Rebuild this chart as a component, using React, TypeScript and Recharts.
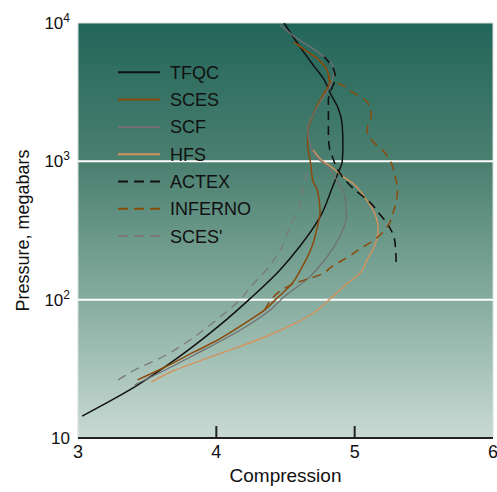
import React from 'react';
import { LineChart, Line, XAxis, YAxis, ReferenceArea, ReferenceLine, Legend } from 'recharts';

// compression (c) vs pressure in megabars (p), low to high pressure
const tfqc = [
  { c: 3.03, p: 14.4 }, { c: 3.41, p: 23.4 }, { c: 3.72, p: 37.9 }, { c: 4.01, p: 63.5 },
  { c: 4.25, p: 103 }, { c: 4.46, p: 164 }, { c: 4.6, p: 240 }, { c: 4.75, p: 396 },
  { c: 4.84, p: 653 }, { c: 4.88, p: 824 }, { c: 4.91, p: 990 }, { c: 4.915, p: 1315 },
  { c: 4.91, p: 1830 }, { c: 4.88, p: 2430 }, { c: 4.83, p: 3020 }, { c: 4.78, p: 3880 },
  { c: 4.71, p: 4820 }, { c: 4.62, p: 6390 }, { c: 4.49, p: 10000 },
];

const sces = [
  { c: 3.43, p: 26.3 }, { c: 3.63, p: 32.6 }, { c: 3.84, p: 41.9 }, { c: 4.01, p: 51.1 },
  { c: 4.21, p: 67.9 }, { c: 4.35, p: 84.3 }, { c: 4.44, p: 103 }, { c: 4.54, p: 128 },
  { c: 4.62, p: 172 }, { c: 4.69, p: 240 }, { c: 4.73, p: 336 }, { c: 4.75, p: 431 },
  { c: 4.73, p: 621 }, { c: 4.7, p: 710 }, { c: 4.68, p: 990 }, { c: 4.66, p: 1315 },
  { c: 4.66, p: 1630 }, { c: 4.69, p: 2060 }, { c: 4.73, p: 2560 }, { c: 4.78, p: 3120 },
  { c: 4.82, p: 3750 }, { c: 4.8, p: 4580 }, { c: 4.74, p: 5410 }, { c: 4.64, p: 6390 },
  { c: 4.56, p: 7300 },
];

const scf = [
  { c: 3.41, p: 24.2 }, { c: 3.63, p: 31.0 }, { c: 3.84, p: 39.8 }, { c: 4.21, p: 63.5 },
  { c: 4.39, p: 84.3 }, { c: 4.49, p: 105 }, { c: 4.65, p: 139 }, { c: 4.8, p: 204 },
  { c: 4.89, p: 284 }, { c: 4.94, p: 396 }, { c: 4.93, p: 553 }, { c: 4.87, p: 734 },
  { c: 4.81, p: 911 }, { c: 4.73, p: 1058 }, { c: 4.68, p: 1315 }, { c: 4.66, p: 1740 },
  { c: 4.7, p: 2170 }, { c: 4.76, p: 2780 }, { c: 4.82, p: 3450 }, { c: 4.85, p: 4580 },
  { c: 4.83, p: 5140 }, { c: 4.78, p: 5690 }, { c: 4.55, p: 8200 }, { c: 4.46, p: 9690 },
];

const hfs = [
  { c: 3.53, p: 25.4 }, { c: 3.67, p: 30.0 }, { c: 3.84, p: 34.9 }, { c: 4.1, p: 43.3 },
  { c: 4.35, p: 53.7 }, { c: 4.59, p: 69.0 }, { c: 4.68, p: 77.5 }, { c: 4.83, p: 103 },
  { c: 4.96, p: 134 }, { c: 5.04, p: 156 }, { c: 5.09, p: 194 }, { c: 5.14, p: 240 },
  { c: 5.17, p: 319 }, { c: 5.14, p: 431 }, { c: 5.07, p: 553 }, { c: 5.0, p: 675 },
  { c: 4.93, p: 759 }, { c: 4.83, p: 911 }, { c: 4.76, p: 1024 }, { c: 4.7, p: 1210 },
];

const actex = [
  { c: 5.3, p: 187 }, { c: 5.29, p: 266 }, { c: 5.25, p: 336 }, { c: 5.18, p: 417 },
  { c: 5.1, p: 517 }, { c: 5.01, p: 611 }, { c: 4.93, p: 734 }, { c: 4.87, p: 896 },
  { c: 4.84, p: 1076 }, { c: 4.82, p: 1210 }, { c: 4.81, p: 1550 }, { c: 4.81, p: 2170 },
  { c: 4.81, p: 2780 }, { c: 4.83, p: 3280 }, { c: 4.86, p: 4010 }, { c: 4.85, p: 4580 },
  { c: 4.78, p: 5690 },
];

const inferno = [
  { c: 4.35, p: 84.3 }, { c: 4.54, p: 128 }, { c: 4.64, p: 139 }, { c: 4.75, p: 151 },
  { c: 4.84, p: 175 }, { c: 4.94, p: 200 }, { c: 5.05, p: 237 }, { c: 5.14, p: 270 },
  { c: 5.24, p: 341 }, { c: 5.28, p: 431 }, { c: 5.31, p: 621 }, { c: 5.29, p: 798 },
  { c: 5.27, p: 942 }, { c: 5.22, p: 1150 }, { c: 5.14, p: 1360 }, { c: 5.09, p: 1690 },
  { c: 5.12, p: 2170 }, { c: 5.09, p: 2690 }, { c: 4.98, p: 3180 }, { c: 4.87, p: 3690 },
  { c: 4.82, p: 3750 }, { c: 4.8, p: 4580 }, { c: 4.74, p: 5410 }, { c: 4.64, p: 6390 },
  { c: 4.56, p: 7300 },
];

const scesPrime = [
  { c: 3.29, p: 26.3 }, { c: 3.41, p: 31.0 }, { c: 3.61, p: 38.5 }, { c: 3.81, p: 51.1 },
  { c: 4.0, p: 71.3 }, { c: 4.17, p: 99.5 }, { c: 4.26, p: 128 }, { c: 4.33, p: 151 },
  { c: 4.4, p: 184 }, { c: 4.47, p: 237 }, { c: 4.53, p: 336 }, { c: 4.6, p: 468 },
  { c: 4.62, p: 621 }, { c: 4.65, p: 784 }, { c: 4.68, p: 942 },
];

const xTicks = [3, 4, 5, 6];
const yTicks = [10, 100, 1000, 10000];
const gridValues = [100, 1000];

const BROWN = '#8a4b0c';
const series = [
  { name: 'TFQC', data: tfqc, color: '#111111', dash: undefined, width: 1.5 },
  { name: 'SCES', data: sces, color: BROWN, dash: undefined, width: 1.5 },
  { name: 'SCF', data: scf, color: '#707070', dash: undefined, width: 1.3 },
  { name: 'HFS', data: hfs, color: '#d4925c', dash: undefined, width: 1.4 },
  { name: 'ACTEX', data: actex, color: '#111111', dash: '9 6', width: 1.6 },
  { name: 'INFERNO', data: inferno, color: BROWN, dash: '9 6', width: 1.5 },
  { name: "SCES'", data: scesPrime, color: '#7a7a7a', dash: '9 6', width: 1.3 },
];

const FONT = '"Liberation Sans", Arial, sans-serif';

function XTick({ x, y, payload }: any) {
  const v = payload.value;
  return (
    <g>
      {(v === 4 || v === 5) && <line x1={x} x2={x} y1={y} y2={y - 12} stroke="#222" strokeWidth={2} />}
      <text x={x} y={y + 20} textAnchor="middle" fontSize={18} fill="#111" fontFamily={FONT}>{v}</text>
    </g>
  );
}

function YTick({ x, y, payload }: any) {
  const exp = Math.round(Math.log10(payload.value));
  return (
    <text x={x} y={y} dy={6} textAnchor="end" fontSize={17} fill="#111" fontFamily={FONT}>
      10
      {exp > 1 && <tspan dy={-7} fontSize={12}>{exp}</tspan>}
    </text>
  );
}

function LegendBox() {
  return (
    <svg width={180} height={190} style={{ display: 'block' }}>
      {series.map((s, i) => {
        const cy = 12.3 + i * 27.3;
        return (
          <g key={s.name}>
            <line x1={0} x2={42} y1={cy} y2={cy} stroke={s.color} strokeWidth={2} strokeDasharray={s.dash ? '10 6' : undefined} />
            <text x={52} y={cy + 6.5} fontSize={18} fill="#111" fontFamily={FONT}>{s.name}</text>
          </g>
        );
      })}
    </svg>
  );
}

export default function App() {
  return (
    <div style={{ position: 'absolute', left: 0, top: 0, width: 497, height: 492, background: '#fff', fontFamily: FONT }}>
      <LineChart width={497} height={492} margin={{ top: 23, right: 4, bottom: 4, left: 18 }}>
        <defs>
          <linearGradient id="plotBg" x1="0" y1="0" x2="0" y2="1">
            <stop offset="0%" stopColor="#22665a" />
            <stop offset="34%" stopColor="#4b8070" />
            <stop offset="67%" stopColor="#86ad9f" />
            <stop offset="100%" stopColor="#c9dad3" />
          </linearGradient>
        </defs>
        <XAxis
          type="number"
          dataKey="c"
          domain={[3, 6]}
          ticks={xTicks}
          height={50}
          tickSize={0}
          tickMargin={0}
          tickLine={false}
          tick={<XTick />}
          axisLine={{ stroke: '#222', strokeWidth: 2 }}
          allowDataOverflow
          label={{ value: 'Compression', position: 'insideBottom', offset: 6, style: { fontSize: 19, fill: '#111', fontFamily: FONT } }}
        />
        <YAxis
          type="number"
          dataKey="p"
          scale="log"
          domain={[10, 10000]}
          ticks={yTicks}
          width={60}
          tickSize={0}
          tickMargin={8}
          tickLine={false}
          axisLine={false}
          tick={<YTick />}
          allowDataOverflow
          label={{ value: 'Pressure, megabars', angle: -90, position: 'insideLeft', offset: 5, style: { textAnchor: 'middle', fontSize: 18, fill: '#111', fontFamily: FONT } }}
        />
        <ReferenceArea x1={3} x2={6} y1={10} y2={10000} fill="url(#plotBg)" fillOpacity={1} stroke="#d5dedb" strokeWidth={1} />
        {gridValues.map((g) => (
          <ReferenceLine key={g} y={g} stroke="#ffffff" strokeWidth={2} />
        ))}
        <Legend
          layout="vertical"
          align="center"
          verticalAlign="middle"
          wrapperStyle={{ left: 118, top: 60, width: 180 }}
          content={() => <LegendBox />}
        />
        {series.map((s) => (
          <Line
            key={s.name}
            name={s.name}
            data={s.data}
            dataKey="p"
            type="monotoneY"
            stroke={s.color}
            strokeWidth={s.width}
            strokeDasharray={s.dash}
            dot={false}
            activeDot={false}
            isAnimationActive={false}
          />
        ))}
      </LineChart>
    </div>
  );
}
